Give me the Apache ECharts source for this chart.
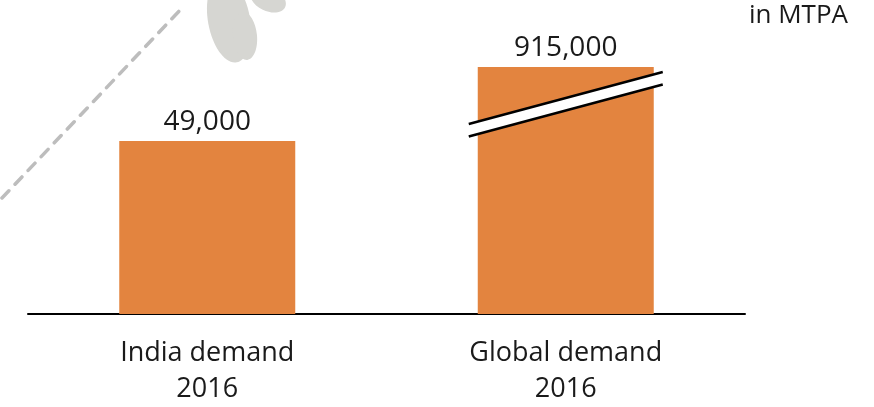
<!DOCTYPE html>
<html>
<head>
<meta charset="utf-8">
<script src="https://cdn.jsdelivr.net/npm/echarts@6/dist/echarts.min.js"></script>
<style>
  html, body { margin: 0; padding: 0; background: #fff; }
  #chart { width: 874px; height: 407px; }
</style>
</head>
<body>
<div id="chart"></div>
<script>
// 数据
var categories = ['India demand\n2016', 'Global demand\n2016'];
var demand = [49000, 915000];
var unitText = 'in MTPA';
// y轴上限（第二根柱子被截断）
var axisMax = 70000;

var chart = echarts.init(document.getElementById('chart'));
var font = '"Open Sans", "Noto Sans", sans-serif';

function fmt(v) {
    return v.toString().replace(/\B(?=(\d{3})+(?!\d))/g, ',');
}

chart.setOption({
    animation: false,
    grid: { left: 28, right: 129, top: 67, bottom: 93 },
    xAxis: {
        type: 'category',
        data: categories,
        axisLine: { lineStyle: { color: '#000', width: 2 } },
        axisTick: { show: false },
        axisLabel: {
            color: '#1a1a1a',
            fontFamily: font,
            fontSize: 27,
            lineHeight: 36,
            margin: 21
        }
    },
    yAxis: {
        type: 'value',
        min: 0,
        max: axisMax,
        show: false,
        splitLine: { show: false }
    },
    series: [{
        type: 'bar',
        data: demand,
        barWidth: 176,
        clip: true,
        itemStyle: { color: '#e3843f' },
        label: {
            show: true,
            position: 'top',
            distance: 5,
            color: '#1a1a1a',
            fontFamily: font,
            fontSize: 28,
            formatter: function (p) { return fmt(p.value); }
        }
    }]
});

// 截断标记 + 装饰
var cx = chart.convertToPixel({ xAxisIndex: 0 }, 1);
var yTop = chart.convertToPixel({ yAxisIndex: 0 }, axisMax);
var x0 = cx - 97, x1 = cx + 97;
var yA = yTop + 57, yB = yTop + 5;

chart.setOption({
    graphic: [
        {
            type: 'polygon', z: 100,
            shape: { points: [[x0, yA], [x1, yB], [x1, yB + 12.5], [x0, yA + 12.5]] },
            style: { fill: '#fff' }
        },
        {
            type: 'line', z: 101,
            shape: { x1: x0, y1: yA, x2: x1, y2: yB },
            style: { stroke: '#000', lineWidth: 2.5 }
        },
        {
            type: 'line', z: 101,
            shape: { x1: x0, y1: yA + 12.5, x2: x1, y2: yB + 12.5 },
            style: { stroke: '#000', lineWidth: 2.5 }
        },
        {
            type: 'text', right: 26, top: 3, z: 100,
            style: { text: unitText, fill: '#1a1a1a', font: '26px ' + font }
        },
        // 虚线装饰
        {
            type: 'line', z: 1,
            shape: { x1: 2, y1: 198, x2: 182, y2: 8 },
            style: { stroke: '#bdbdbd', lineWidth: 3.5, lineDash: [10, 9], lineCap: 'round' }
        },
        // 花瓣装饰
        {
            type: 'ellipse', z: 1, x: 229, y: 20, rotation: 0.18,
            shape: { cx: 0, cy: 0, rx: 21, ry: 43 },
            style: { fill: '#d6d6d2' }
        },
        {
            type: 'ellipse', z: 1, x: 245, y: 36, rotation: 0.1,
            shape: { cx: 0, cy: 0, rx: 12, ry: 24 },
            style: { fill: '#d6d6d2' }
        },
        {
            type: 'ellipse', z: 1, x: 268, y: -1, rotation: -0.45,
            shape: { cx: 0, cy: 0, rx: 19, ry: 12 },
            style: { fill: '#d6d6d2' }
        }
    ]
});
</script>
</body>
</html>
